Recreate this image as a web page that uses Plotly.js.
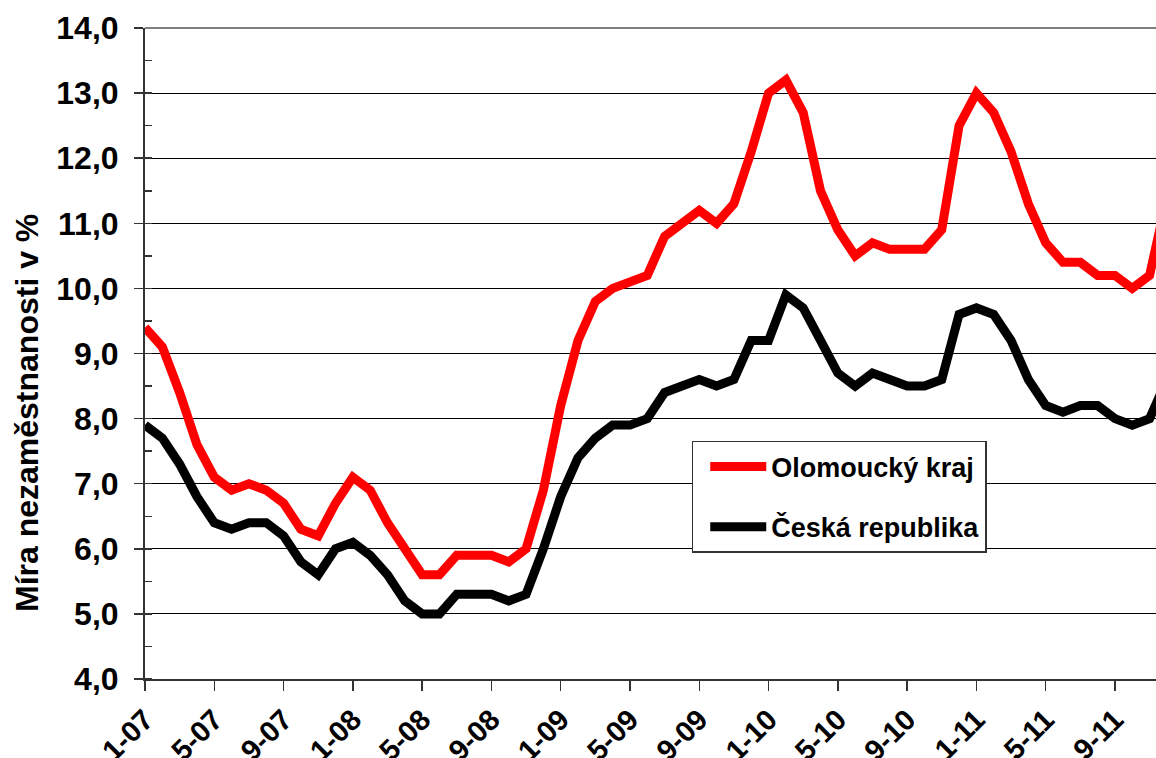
<!DOCTYPE html>
<html>
<head>
<meta charset="utf-8">
<script src="https://cdn.plot.ly/plotly-3.0.1.min.js"></script>
<style>
  html, body { margin: 0; padding: 0; background: #ffffff; }
  #chart { width: 1156px; height: 758px; }
</style>
</head>
<body>
<div id="chart"></div>
<script>
// Month categories (1-07 = January 2007 ... 12-11 = December 2011)
const months = [
  "1-07","2-07","3-07","4-07","5-07","6-07","7-07","8-07","9-07","10-07","11-07","12-07",
  "1-08","2-08","3-08","4-08","5-08","6-08","7-08","8-08","9-08","10-08","11-08","12-08",
  "1-09","2-09","3-09","4-09","5-09","6-09","7-09","8-09","9-09","10-09","11-09","12-09",
  "1-10","2-10","3-10","4-10","5-10","6-10","7-10","8-10","9-10","10-10","11-10","12-10",
  "1-11","2-11","3-11","4-11","5-11","6-11","7-11","8-11","9-11","10-11","11-11","12-11"
];

// Míra nezaměstnanosti – Olomoucký kraj (%)
const olomoucky = [
  9.4, 9.1, 8.4, 7.6, 7.1, 6.9, 7.0, 6.9, 6.7, 6.3, 6.2, 6.7,
  7.1, 6.9, 6.4, 6.0, 5.6, 5.6, 5.9, 5.9, 5.9, 5.8, 6.0, 6.9,
  8.2, 9.2, 9.8, 10.0, 10.1, 10.2, 10.8, 11.0, 11.2, 11.0, 11.3, 12.1,
  13.0, 13.2, 12.7, 11.5, 10.9, 10.5, 10.7, 10.6, 10.6, 10.6, 10.9, 12.5,
  13.0, 12.7, 12.1, 11.3, 10.7, 10.4, 10.4, 10.2, 10.2, 10.0, 10.2, 11.4
];

// Míra nezaměstnanosti – Česká republika (%)
const ceskaRepublika = [
  7.9, 7.7, 7.3, 6.8, 6.4, 6.3, 6.4, 6.4, 6.2, 5.8, 5.6, 6.0,
  6.1, 5.9, 5.6, 5.2, 5.0, 5.0, 5.3, 5.3, 5.3, 5.2, 5.3, 6.0,
  6.8, 7.4, 7.7, 7.9, 7.9, 8.0, 8.4, 8.5, 8.6, 8.5, 8.6, 9.2,
  9.2, 9.9, 9.7, 9.2, 8.7, 8.5, 8.7, 8.6, 8.5, 8.5, 8.6, 9.6,
  9.7, 9.6, 9.2, 8.6, 8.2, 8.1, 8.2, 8.2, 8.0, 7.9, 8.0, 8.6
];

// Tick labels shown on the x axis (every 4th month)
const xTickLabels = months.filter((m, i) => i % 4 === 0);

const seriesNames = ["Olomoucký kraj", "Česká republika"];
const yTitle = "Míra nezaměstnanosti v %";

const FONT = "Liberation Sans, Arial, sans-serif";

const traces = [
  {
    x: months, y: olomoucky, name: seriesNames[0], type: "scatter", mode: "lines",
    line: { color: "#ff0000", width: 9 }, legendgroup: "a"
  },
  {
    x: months, y: ceskaRepublika, name: seriesNames[1], type: "scatter", mode: "lines",
    line: { color: "#000000", width: 9 }, legendgroup: "b"
  }
];

const layout = {
  width: 1156, height: 758,
  margin: { l: 145, r: 0, t: 28, b: 79, pad: 0 },
  paper_bgcolor: "#ffffff", plot_bgcolor: "#ffffff",
  font: { family: FONT, color: "#000000" },
  showlegend: true,
  legend: {
    x: 0.5408, y: 0.3656, xanchor: "left", yanchor: "top",
    bgcolor: "#ffffff", bordercolor: "#333333", borderwidth: 1.5,
    font: { family: FONT, size: 27, weight: "bold", color: "#000000" },
    tracegroupgap: 22, itemwidth: 56, indentation: 12,
    entrywidth: 297, entrywidthmode: "pixels"
  },
  xaxis: {
    type: "category",
    range: [0, 58.37],
    tickmode: "array", tickvals: xTickLabels, ticktext: xTickLabels,
    tickangle: -45,
    ticks: "outside", ticklen: 10, tickwidth: 1.5, tickcolor: "#333333",
    showline: true, linecolor: "#333333", linewidth: 2,
    showgrid: false, zeroline: false,
    tickfont: { family: FONT, size: 29, weight: "bold", color: "#000000" },
    fixedrange: true
  },
  yaxis: {
    range: [4, 14],
    tickmode: "linear", tick0: 4, dtick: 1,
    tickformat: ".1f",
    ticks: "outside", ticklen: 9, tickwidth: 1.5, tickcolor: "#333333",
    ticklabelstandoff: 9,
    minor: { dtick: 0.5, ticks: "inside", ticklen: 7, tickwidth: 1.5, tickcolor: "#333333", showgrid: false },
    showline: true, linecolor: "#333333", linewidth: 2,
    showgrid: true, gridcolor: "#000000", gridwidth: 1,
    zeroline: false,
    tickfont: { family: FONT, size: 32, weight: "bold", color: "#000000" },
    fixedrange: true
  },
  separators: ", ",
  annotations: [
    { text: yTitle, xref: "paper", yref: "paper", x: -0.1167, y: 0.4086,
      xanchor: "center", yanchor: "middle", textangle: -90, showarrow: false,
      font: { family: FONT, size: 32, weight: "bold", color: "#000000" } }
  ],
  shapes: [
    { type: "line", xref: "paper", yref: "paper", x0: 0, x1: 1, y0: 1, y1: 1,
      line: { color: "#808080", width: 2 } }
  ]
};

Plotly.newPlot("chart", traces, layout, { displayModeBar: false, staticPlot: true });
</script>
</body>
</html>
